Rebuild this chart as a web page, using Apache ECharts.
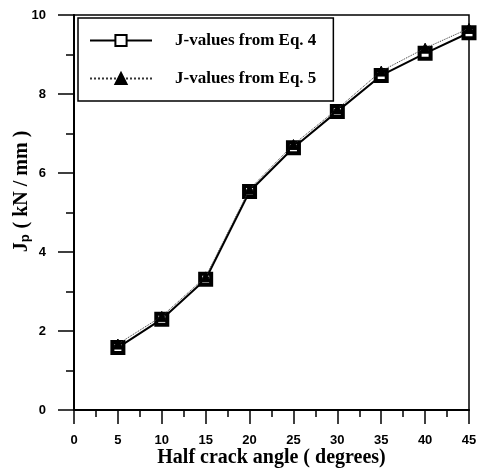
<!DOCTYPE html>
<html>
<head>
<meta charset="utf-8">
<script src="https://cdn.jsdelivr.net/npm/echarts@6/dist/echarts.min.js"></script>
<style>
  html, body { margin: 0; padding: 0; background: #fff; }
  #main { width: 479px; height: 476px; }
</style>
</head>
<body>
<div id="main"></div>
<script>
// half crack angle (degrees)
const angles = [5, 10, 15, 20, 25, 30, 35, 40, 45];
// J-values (kN/mm)
const jEq4 = [1.58, 2.30, 3.31, 5.53, 6.64, 7.56, 8.47, 9.03, 9.55];
const jEq5 = [1.67, 2.37, 3.37, 5.59, 6.72, 7.62, 8.58, 9.16, 9.66];
const xTicks = [0, 5, 10, 15, 20, 25, 30, 35, 40, 45];
const yTicks = [0, 2, 4, 6, 8, 10];

const chart = echarts.init(document.getElementById('main'));

const serif = '"Liberation Serif", "DejaVu Serif", serif';
const sans = '"Liberation Sans", Arial, sans-serif';

function pairs(ys) {
    return angles.map(function (a, i) { return [a, ys[i]]; });
}

const option = {
    backgroundColor: '#fff',
    animation: false,
    grid: {
        left: 74, top: 15, width: 395, height: 395,
        show: true, borderColor: '#000', borderWidth: 1.5,
        outerBoundsMode: 'none'
    },
    legend: {
        orient: 'vertical',
        left: 78, top: 18,
        padding: [14, 17, 14, 11],
        itemGap: 21,
        itemWidth: 62,
        itemHeight: 14,
        borderColor: '#000',
        borderWidth: 1.5,
        textStyle: { fontFamily: serif, fontSize: 17, fontWeight: 'bold', color: '#000', padding: [0, 0, 0, 18] },
        data: ['J-values from Eq. 4', 'J-values from Eq. 5']
    },
    xAxis: {
        type: 'value',
        min: 0, max: 45, interval: 5,
        name: 'Half crack angle ( degrees)',
        nameLocation: 'middle',
        nameGap: 38,
        nameMoveOverlap: false,
        nameTextStyle: { fontFamily: serif, fontSize: 20, fontWeight: 'bold', color: '#000' },
        axisLine: { lineStyle: { color: '#000', width: 2 } },
        axisTick: { inside: false, length: 14, lineStyle: { color: '#000', width: 1.5 } },
        minorTick: { show: true, splitNumber: 2, length: 7, lineStyle: { color: '#000', width: 1.5 } },
        splitLine: { show: false },
        axisLabel: {
            margin: 24,
            fontFamily: sans, fontSize: 13, fontWeight: 'bold', color: '#000',
            customValues: xTicks
        }
    },
    yAxis: {
        type: 'value',
        min: 0, max: 10, interval: 2,
        name: '{a|J}{b|p}{a| ( kN / mm )}',
        nameLocation: 'middle',
        nameGap: 42,
        nameRotate: 90,
        nameMoveOverlap: false,
        nameTextStyle: {
            padding: [0, 0, 0, 42],
            rich: {
                a: { fontFamily: serif, fontSize: 20, fontWeight: 'bold', color: '#000' },
                b: { fontFamily: sans, fontSize: 13, fontWeight: 'bold', color: '#000', verticalAlign: 'bottom', padding: [8, 1, 0, 0] }
            }
        },
        axisLine: { lineStyle: { color: '#000', width: 2 } },
        axisTick: { inside: false, length: 16, lineStyle: { color: '#000', width: 1.5 } },
        minorTick: { show: true, splitNumber: 2, length: 8, lineStyle: { color: '#000', width: 1.5 } },
        splitLine: { show: false },
        axisLabel: {
            margin: 28,
            fontFamily: sans, fontSize: 13, fontWeight: 'bold', color: '#000',
            customValues: yTicks
        }
    },
    series: [
        {
            name: 'J-values from Eq. 4',
            type: 'line',
            data: pairs(jEq4),
            symbol: 'rect',
            symbolSize: 11,
            lineStyle: { color: '#000', width: 2 },
            itemStyle: { color: '#fff', borderColor: '#000', borderWidth: 4 },
            z: 2
        },
        {
            name: 'J-values from Eq. 5',
            type: 'line',
            data: pairs(jEq5),
            symbol: 'triangle',
            symbolSize: 10,
            lineStyle: { color: '#333', width: 1, type: 'dotted' },
            itemStyle: { color: '#000', borderColor: '#000', borderWidth: 1 },
            z: 3
        }
    ]
};

chart.setOption(option);
</script>
</body>
</html>
